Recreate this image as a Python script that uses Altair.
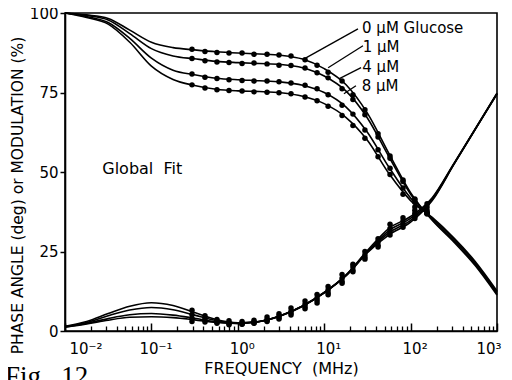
import altair as alt
import pandas as pd

# ---------------- data ----------------
freq_curve = [0.01, 0.0178, 0.0316, 0.0562, 0.1, 0.178, 0.316, 0.562, 1.0, 1.78,
              3.16, 5.62, 10.0, 17.8, 31.6, 56.2, 100.0, 178.0, 316.0, 562.0, 1000.0]
series_names = ["0 µM", "1 µM", "4 µM", "8 µM"]

mod_fit_0 = [100, 99.4, 98.3, 94.6, 90.8, 89.1, 88.4, 87.8, 87.4, 87.1, 86.7, 85.5, 82.5, 77.5, 68.5, 55.8, 43.5, 34.8, 28.0, 20.5, 11.3]
mod_fit_1 = [100, 99.2, 97.8, 93.5, 88.8, 86.5, 85.6, 84.8, 84.4, 84.1, 83.8, 82.8, 80.2, 75.5, 67.0, 54.8, 43.0, 35.0, 28.4, 20.9, 11.7]
mod_fit_4 = [100, 98.9, 97.0, 92.0, 85.8, 82.0, 80.6, 79.5, 79.0, 78.7, 78.3, 77.3, 75.0, 70.5, 62.5, 51.5, 41.8, 35.4, 28.9, 21.4, 12.2]
mod_fit_8 = [100, 98.6, 96.5, 90.8, 83.3, 79.1, 77.2, 76.0, 75.5, 75.3, 74.9, 73.8, 71.5, 67.2, 60.0, 49.5, 41.0, 35.7, 29.3, 21.8, 12.6]

phase_fit_0 = [1.5, 3.0, 5.5, 7.8, 8.9, 8.0, 5.8, 3.6, 2.6, 3.0, 4.8, 7.8, 12.0, 17.3, 24.6, 30.2, 34.2, 41.0, 52.3, 63.5, 74.5]
phase_fit_1 = [1.4, 2.7, 4.8, 6.6, 7.4, 6.7, 5.0, 3.3, 2.5, 3.0, 4.8, 7.8, 12.0, 17.4, 24.8, 30.9, 34.8, 41.3, 52.4, 63.5, 74.6]
phase_fit_4 = [1.3, 2.4, 3.9, 5.1, 5.5, 5.0, 4.0, 2.9, 2.4, 3.0, 4.9, 7.9, 12.1, 17.5, 25.0, 31.6, 35.4, 41.6, 52.5, 63.6, 74.7]
phase_fit_8 = [1.2, 2.2, 3.4, 4.3, 4.5, 4.2, 3.5, 2.7, 2.4, 3.0, 4.9, 7.9, 12.1, 17.6, 25.3, 32.3, 36.0, 41.9, 52.6, 63.6, 74.8]

freq_data = [0.295, 0.417, 0.574, 0.791, 1.12, 1.54, 2.18, 3.00, 4.13, 6.00,
             8.27, 11.1, 16.1, 21.5, 29.6, 42.0, 57.8, 81.7, 112.0, 155.0]

mod_obs_0 = [88.6, 87.9, 87.6, 87.4, 87.4, 87.0, 87.0, 86.8, 86.5, 85.3, 83.6, 81.4, 78.6, 74.3, 69.6, 62.0, 55.0, 47.5, 41.5, 37.0]
mod_obs_1 = [85.7, 85.0, 84.6, 84.4, 84.1, 84.3, 84.0, 83.6, 83.5, 82.7, 81.2, 79.6, 76.2, 72.8, 68.0, 61.0, 54.3, 47.0, 41.3, 37.2]
mod_obs_4 = [80.8, 79.8, 79.4, 79.0, 78.8, 78.6, 78.6, 78.4, 78.0, 77.3, 76.2, 74.3, 71.0, 68.2, 63.2, 57.0, 51.2, 45.0, 40.5, 37.0]
mod_obs_8 = [77.4, 76.4, 75.9, 75.6, 75.5, 75.2, 75.1, 74.9, 74.6, 73.6, 72.4, 70.7, 67.8, 64.6, 60.6, 54.8, 49.2, 43.0, 39.0, 36.8]

phase_obs_0 = [6.5, 4.8, 3.6, 3.2, 3.0, 3.4, 4.4, 5.4, 7.2, 9.4, 11.5, 14.0, 17.8, 21.0, 25.0, 29.0, 30.2, 32.6, 35.4, 37.0]
phase_obs_1 = [5.2, 4.0, 3.1, 2.6, 2.5, 2.9, 3.6, 4.8, 6.2, 8.4, 10.4, 13.0, 16.6, 20.2, 24.0, 28.0, 31.2, 33.6, 36.0, 38.0]
phase_obs_4 = [4.0, 3.3, 2.8, 2.3, 2.2, 2.5, 3.2, 4.2, 5.6, 7.6, 9.6, 12.0, 15.6, 19.2, 23.2, 27.0, 32.2, 34.6, 37.0, 39.0]
phase_obs_8 = [3.0, 2.8, 2.4, 2.0, 2.1, 2.4, 3.0, 3.8, 5.0, 7.0, 8.8, 11.4, 15.0, 18.6, 22.6, 26.4, 33.6, 35.6, 38.0, 40.0]

label_texts = ["0 µM Glucose", "1 µM", "4 µM", "8 µM"]
label_freq = [27.4, 27.9, 27.6, 27.2]
label_value = [95.3, 89.3, 83.1, 77.1]
leader_f1 = [24.6, 28.1, 26.7, 23.3]
leader_v1 = [95.0, 89.7, 82.8, 77.1]
leader_f2 = [6.15, 11.1, 14.8, 16.9]
leader_v2 = [85.9, 82.8, 79.3, 74.6]

major_ticks = [0.01, 0.1, 1, 10, 100, 1000]
minor_ticks = [m * d for d in [0.01, 0.1, 1, 10, 100] for m in range(2, 10)]
y_ticks = [0, 25, 50, 75, 100]

# ---------------- tables ----------------
fit_rows = []
for kind, lists in [("mod", [mod_fit_0, mod_fit_1, mod_fit_4, mod_fit_8]),
                    ("phase", [phase_fit_0, phase_fit_1, phase_fit_4, phase_fit_8])]:
    for name, vals in zip(series_names, lists):
        for f, v in zip(freq_curve, vals):
            fit_rows.append({"f": f, "v": v, "series": kind + " " + name})
fit_df = pd.DataFrame(fit_rows)

obs_rows = []
for kind, lists in [("mod", [mod_obs_0, mod_obs_1, mod_obs_4, mod_obs_8]),
                    ("phase", [phase_obs_0, phase_obs_1, phase_obs_4, phase_obs_8])]:
    for name, vals in zip(series_names, lists):
        for f, v in zip(freq_data, vals):
            obs_rows.append({"f": f, "v": v, "series": kind + " " + name})
obs_df = pd.DataFrame(obs_rows)

lab_df = pd.DataFrame({"f": label_freq, "v": label_value, "t": label_texts})
lead_df = pd.DataFrame({"f": leader_f1, "v": leader_v1, "f2": leader_f2, "v2": leader_v2})
gf_df = pd.DataFrame({"f": [0.027], "v": [51.0], "t": ["Global\u00a0\u00a0Fit"]})
tick_minor_df = pd.DataFrame({"f": minor_ticks})

FONT = "DejaVu Sans"
xscale = alt.Scale(type="log", domain=[0.01, 1000], nice=False)
yscale = alt.Scale(domain=[0, 100], nice=False)

label_expr = ("datum.value == 0.01 ? '10⁻²' : datum.value == 0.1 ? '10⁻¹' : "
              "datum.value == 1 ? '10⁰' : datum.value == 10 ? '10¹' : "
              "datum.value == 100 ? '10²' : '10³'")

x_main = alt.X("f:Q", scale=xscale, axis=alt.Axis(
    values=major_ticks, labelExpr=label_expr, ticks=False, tickSize=0,
    labelPadding=10, labelOffset=4, labelFontSize=15, labelFont=FONT, labelColor="black",
    domain=True, domainColor="black", domainWidth=1.6, grid=False, orient="bottom",
    title="FREQUENCY\u00a0\u00a0(MHz)", titleFont=FONT, titleFontSize=16, titleFontWeight="normal",
    titleColor="black", titlePadding=4))

x_none = alt.X("f:Q", scale=xscale, axis=None)

y_enc = alt.Y("v:Q", scale=yscale, axis=alt.Axis(
    values=y_ticks, tickSize=5, tickColor="black", tickWidth=1.5, labelPadding=2,
    labelFontSize=15, labelFont=FONT, labelColor="black",
    domain=True, domainColor="black", domainWidth=1.6, grid=False,
    title="PHASE\u00a0ANGLE\u00a0(deg)\u00a0or\u00a0MODULATION\u00a0(%)", titleFont=FONT,
    titleFontSize=15.5, titleFontWeight="normal", titleColor="black", titleX=-48, titleY=182,
    titleAngle=270, titleAlign="center", titleBaseline="middle"))

fit_lines = alt.Chart(fit_df).mark_line(color="black", strokeWidth=1.6,
                                        interpolate="monotone").encode(
    x=x_main, y=y_enc, detail="series:N")

points = alt.Chart(obs_df).mark_circle(color="black", size=30, opacity=1).encode(
    x=alt.X("f:Q", scale=xscale, axis=alt.Axis(
        values=major_ticks, orient="bottom", offset=-8, tickSize=8, tickWidth=1.5,
        tickColor="black", labels=False, domain=False, grid=False, title=None)),
    y=y_enc, detail="series:N")

minor_axis = alt.Chart(tick_minor_df).mark_point(opacity=0).encode(
    x=alt.X("f:Q", scale=xscale, axis=alt.Axis(
        values=minor_ticks, orient="bottom", offset=-5, tickSize=5, tickWidth=1.3,
        tickColor="black", labels=False, domain=False, grid=False, title=None)),
    y=alt.value(-1000))

leaders = alt.Chart(lead_df).mark_rule(color="black", strokeWidth=1.3).encode(
    x=x_none, x2="f2:Q", y=y_enc, y2="v2:Q")

labels = alt.Chart(lab_df).mark_text(align="left", baseline="middle", font=FONT,
                                     fontSize=15, color="black").encode(
    x=x_none, y=y_enc, text="t:N")

global_fit = alt.Chart(gf_df).mark_text(align="left", baseline="middle", font=FONT,
                                        fontSize=16, color="black").encode(
    x=x_none, y=y_enc, text="t:N")

fig_text = alt.Chart(pd.DataFrame({"t": ["Fig.\u00a0\u00a012"]})).mark_text(
    align="left", baseline="alphabetic", font="Liberation Serif", fontSize=27,
    color="black").encode(x=alt.value(-60), y=alt.value(372), text="t:N")

chart = alt.layer(
    fit_lines, points, minor_axis, leaders, labels, global_fit, fig_text
).resolve_axis(x="independent").properties(
    width=432, height=318,
    autosize=alt.AutoSizeParams(type="none"),
    padding={"left": 57, "top": 5, "right": 7, "bottom": 49},
    background="white",
).configure_view(stroke="black", strokeWidth=1.6)

chart.save("out.html", embed_options={"renderer": "svg", "actions": False})
